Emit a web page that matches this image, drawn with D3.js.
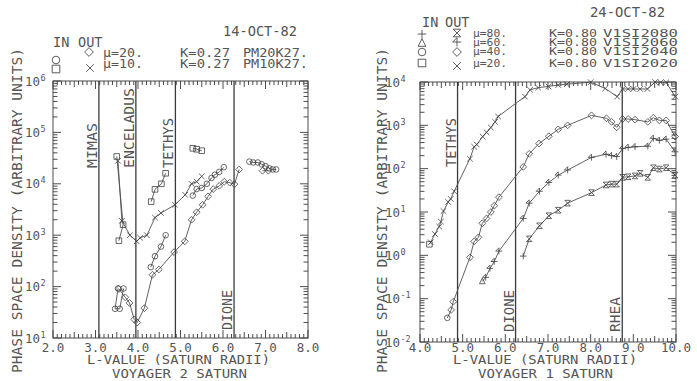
<!DOCTYPE html>
<html>
<head>
<meta charset="utf-8">
<script src="https://cdn.jsdelivr.net/npm/d3@7"></script>
<style>
  body { margin: 0; background: #fff; }
  svg text { font-family: "DejaVu Sans Mono", monospace; fill: #555; }
</style>
</head>
<body>
<script>
// ---- data: Voyager 2 (left panel) ----
const v2Moons = ["MIMAS", "ENCELADUS", "TETHYS", "DIONE"];
const v2MoonL = [3.08, 3.95, 4.88, 6.26];

// IN mu=20 (circles), IN mu=10 (squares), OUT mu=20 (diamonds), OUT mu=10 (x)
const v2In20 = [[3.53,92],[3.46,37],[3.57,37],[3.66,92],null,
  [4.30,240],[4.40,390],[4.54,600],[4.65,1000],null,
  [5.29,5900],[5.38,7900],[5.50,8300],[5.62,10000],[5.73,13000],[5.81,15000],[5.91,17000],[6.02,21000],null,
  [6.62,27000],[6.71,26000],[6.82,26000],[6.91,24000],[7.00,22000],[7.09,20000],[7.17,19000],[7.25,19000]];
const v2In10 = [[3.50,34000],[3.65,1600],[3.55,780],null,
  [4.31,4500],[4.40,7800],[4.55,10000],[4.65,16000],null,
  [5.29,49000],[5.38,47000],[5.50,44000]];
const v2Out20 = [[3.55,90],[3.70,62],[3.80,48],[3.91,23],[3.98,20],[4.15,38],[4.34,170],[4.49,215],
  [4.85,470],[5.10,760],[5.26,2000],[5.38,2800],[5.52,3900],[5.65,5700],[5.77,7900],[5.91,9100],
  [6.03,11000],[6.16,10500],[6.27,9800],[6.38,19000],null,[6.93,18000],[7.07,18000]];
const v2Out10 = [[3.53,28000],[3.62,1900],[3.81,1000],[3.97,760],[4.05,890],[4.21,1000],[4.40,2200],
  [4.54,2700],[4.87,3900],[5.11,6100],[5.26,10000],[5.38,11000],[5.50,14000]];

const v2Mu = ["\u03bc=20.", "\u03bc=10."];
const v2K = ["K=0.27", "K=0.27"];
const v2Id = ["PM20K27.", "PM10K27."];

// ---- data: Voyager 1 (right panel) ----
const v1Moons = ["TETHYS", "DIONE", "RHEA"];
const v1MoonL = [4.88, 6.24, 8.74];

const v1In80 = [[6.42,0.96]];
const v1In60 = [[5.46,0.25]];
const v1In40 = [[4.64,0.036]];
const v1In20 = [[4.22,1.8]];
const v1Out80 = [[6.56,2.4],[6.80,4.8],[7.02,8.2],[7.24,11],[7.46,16],[8.02,28],[8.36,42],[8.49,44],[8.61,44],
  [8.75,63],[8.88,65],[9.04,68],[9.16,78],[9.34,63],[9.47,105],[9.61,98],[9.77,105],[9.98,71]];
const v1Out60 = [[5.54,0.31],[5.64,0.5],[5.74,0.72],[5.85,1.25],[6.42,7.1],[6.56,16],[6.80,30],[7.02,48],
  [7.24,71],[7.46,93],[8.02,182],[8.36,215],[8.49,200],[8.61,190],[8.75,290],[8.88,310],[9.04,320],
  [9.34,330],[9.47,500],[9.61,450],[9.77,480],[9.98,245]];
const v1Out40 = [[4.73,0.055],[4.78,0.085],[5.17,0.9],[5.27,2.1],[5.37,2.6],[5.46,5.5],[5.56,7.1],[5.66,10],
  [5.74,14],[5.85,22],[6.42,110],[6.56,220],[6.79,380],[7.02,560],[7.24,810],[7.46,1000],[8.02,1700],
  [8.37,1450],[8.49,1200],[8.61,900],[8.75,1400],[8.88,1400],[9.04,1350],[9.34,1200],[9.47,1500],
  [9.61,1300],[9.77,1300],[9.98,550]];
const v1Out20 = [[4.25,2.0],[4.35,3.1],[4.45,4.6],[4.49,6.0],[4.55,10.5],[4.66,17],[4.72,20],[4.80,30],
  [5.17,170],[5.27,320],[5.33,360],[5.47,550],[5.56,690],[5.66,890],[5.76,1200],[5.83,1600],[6.46,4600],
  [6.58,6600],[6.77,7400],[7.01,7900],[7.24,8500],[7.44,8900],[8.00,9900],[8.34,7100],[8.62,4600],
  [8.75,6900],[8.88,6900],[9.00,6900],[9.16,6900],[9.33,6900],[9.51,10000],[9.64,9800],[9.77,9800],[9.98,4600]];

const v1Mu = ["\u03bc=80.", "\u03bc=60.", "\u03bc=40.", "\u03bc=20."];
const v1K = ["K=0.80", "K=0.80", "K=0.80", "K=0.80"];
const v1Id = ["V1SI2080", "V1SI2060", "V1SI2040", "V1SI2020"];

// ---- drawing ----
const FS = 13.5;
const INK = "#4a4a4a";

const svg = d3.select("body").append("svg")
  .attr("width", 697).attr("height", 381);

// marker shapes, stroke only
function markerPath(type, s) {
  s = s || 3;
  switch (type) {
    case "circle": return d3.symbol(d3.symbolCircle, Math.PI * s * s)();
    case "square": return `M${-s},${-s}H${s}V${s}H${-s}Z`;
    case "diamond": return `M0,${-s-0.6}L${s+0.6},0L0,${s+0.6}L${-s-0.6},0Z`;
    case "x": return `M${-s},${-s}L${s},${s}M${-s},${s}L${s},${-s}`;
    case "plus": return `M${-s-0.5},0H${s+0.5}M0,${-s-0.5}V${s+0.5}`;
    case "triangle": return `M0,${-s-0.5}L${s},${s-0.5}H${-s}Z`;
    case "hourglass": return `M${-s},${-s}H${s}L${-s},${s}H${s}Z`;
    case "star": return `M${-s-0.5},0H${s+0.5}M0,${-s-0.5}V${s+0.5}M0,${-s-0.5}L${-s-0.5},0`;
  }
}

function txt(g, x, y, str, opt) {
  opt = opt || {};
  const t = g.append("text")
    .attr("x", x).attr("y", y)
    .attr("font-size", opt.size || FS)
    .attr("text-anchor", opt.anchor || "start")
    .text(str);
  if (opt.len) t.attr("textLength", opt.len).attr("lengthAdjust", "spacingAndGlyphs");
  return t;
}

function panel(cfg) {
  const g = svg.append("g");
  const x = d3.scaleLinear().domain(cfg.xDom).range([cfg.x0, cfg.x1]);
  const y = d3.scaleLog().domain(cfg.yDom).range([cfg.y1, cfg.y0]);

  // minor / half / major ticks on all four sides, pointing inward
  const xMinor = d3.range(cfg.xDom[0] * 10, cfg.xDom[1] * 10 + 1).map(v => v / 10);
  const tickLen = v => {
    const r = Math.round(v * 10) % 10;
    return r === 0 ? 8 : (r === 5 ? 6 : 4);
  };
  const pows = d3.range(Math.log10(cfg.yDom[0]), Math.log10(cfg.yDom[1]) + 1);
  const yTicks = [];
  pows.forEach((p, i) => {
    yTicks.push({ v: Math.pow(10, p), len: 8 });
    if (i < pows.length - 1) d3.range(2, 10).forEach(m => yTicks.push({ v: m * Math.pow(10, p), len: 4.5 }));
  });

  const ax = g.append("g").attr("stroke", "#3a3a3a").attr("stroke-width", 0.9);
  ax.append("rect").attr("x", cfg.x0).attr("y", cfg.y0)
    .attr("width", cfg.x1 - cfg.x0).attr("height", cfg.y1 - cfg.y0).attr("fill", "none");
  xMinor.forEach(v => {
    const px = x(v), L = tickLen(v);
    ax.append("line").attr("x1", px).attr("x2", px).attr("y1", cfg.y1).attr("y2", cfg.y1 - L);
    ax.append("line").attr("x1", px).attr("x2", px).attr("y1", cfg.y0).attr("y2", cfg.y0 + L);
  });
  yTicks.forEach(t => {
    const py = y(t.v);
    ax.append("line").attr("x1", cfg.x0).attr("x2", cfg.x0 + t.len).attr("y1", py).attr("y2", py);
    ax.append("line").attr("x1", cfg.x1).attr("x2", cfg.x1 - t.len).attr("y1", py).attr("y2", py);
  });

  // tick labels
  d3.range(cfg.xDom[0], cfg.xDom[1] + 1).forEach(v => {
    txt(g, x(v), 351.5, d3.format(".1f")(v), { anchor: "middle", size: 12.5 });
  });
  pows.forEach(p => {
    const py = y(Math.pow(10, p));
    txt(g, cfg.x0 - cfg.yLabOff, py + 4.5, "10", { anchor: "end", size: 12.5 });
    txt(g, cfg.x0 - cfg.yLabOff + 0.5, py - 0.5, String(p), { size: 8.5 });
  });

  // moon lines and names
  cfg.moons.forEach((m, i) => {
    const px = x(cfg.moonL[i]);
    g.append("line").attr("x1", px).attr("x2", px).attr("y1", cfg.y0).attr("y2", cfg.y1)
      .attr("stroke", "#3a3a3a").attr("stroke-width", 1.3);
    g.append("text").attr("transform", `translate(${px - 2},${cfg.moonY[i]}) rotate(-90)`)
      .attr("font-size", FS)
      .attr("textLength", cfg.moonLen[i]).attr("lengthAdjust", "spacingAndGlyphs")
      .text(m);
  });

  // axis titles
  g.append("text")
    .attr("transform", `translate(${cfg.yTitleX},210.5) rotate(-90)`)
    .attr("text-anchor", "middle").attr("font-size", FS)
    .attr("textLength", 325).attr("lengthAdjust", "spacingAndGlyphs")
    .text("PHASE SPACE DENSITY (ARBITRARY UNITS)");
  txt(g, cfg.xTitle[0], 363.5, "L-VALUE (SATURN RADII)", { len: cfg.xTitle[1], size: 11.5 });
  txt(g, cfg.craft[0], 377.5, cfg.craft[2], { len: cfg.craft[1], size: 11.5 });

  // series
  const line = d3.line().defined(d => d).x(d => x(d[0])).y(d => y(d[1]));
  const plot = g.append("g");
  cfg.series.forEach(s => {
    plot.append("path").datum(s.line || s.pts)
      .attr("d", line).attr("fill", "none")
      .attr("stroke", "#505050").attr("stroke-width", 0.9);
  });
  cfg.series.forEach(s => {
    plot.selectAll(null).data(s.pts.filter(d => d)).enter().append("path")
      .attr("d", markerPath(s.mark, 2.8))
      .attr("transform", d => `translate(${x(d[0])},${y(d[1])})`)
      .attr("fill", "none").attr("stroke", "#404040").attr("stroke-width", 0.8);
  });

  // header / legend
  txt(g, cfg.date[0], cfg.date[1], cfg.date[2], { len: cfg.date[3] });
  txt(g, cfg.inOut[0], cfg.inOut[2], "IN");
  txt(g, cfg.inOut[1], cfg.inOut[2], "OUT");
  const lg = cfg.legend;
  lg.rows.forEach((r, i) => {
    txt(g, lg.xs[0], r.base, lg.mu[i], { len: lg.lens[0], size: lg.size });
    txt(g, lg.xs[1], r.base, lg.k[i], { len: lg.lens[1], size: lg.size });
    txt(g, lg.xs[2], r.base, lg.id[i], { len: lg.lens[2], size: lg.size });
    g.append("path").attr("d", markerPath(r.inMark, 3.8))
      .attr("transform", `translate(${r.inPos[0]},${r.inPos[1]})`)
      .attr("fill", "none").attr("stroke", INK).attr("stroke-width", 0.9);
    g.append("path").attr("d", markerPath(r.outMark, 3.8))
      .attr("transform", `translate(${r.outPos[0]},${r.outPos[1]})`)
      .attr("fill", "none").attr("stroke", INK).attr("stroke-width", 0.9);
  });
}

const byL = (a, b) => a[0] - b[0];

panel({
  x0: 53, x1: 308, y0: 81, y1: 338, xDom: [2, 8], yDom: [10, 1e6], yLabOff: 13,
  moons: v2Moons, moonL: v2MoonL, moonY: [168, 168, 168, 330], moonLen: [45, 80, 50, 40],
  yTitleX: 22, xTitle: [87, 183], craft: [112, 135, "VOYAGER 2 SATURN"],
  date: [223, 36, "14-OCT-82", 74], inOut: [53, 78, 47],
  series: [
    { pts: v2In20, mark: "circle" },
    { pts: v2In10, mark: "square" },
    { pts: v2Out20, mark: "diamond" },
    { pts: v2Out10, mark: "x" }
  ],
  legend: {
    mu: v2Mu, k: v2K, id: v2Id, xs: [103, 180, 243], lens: [40, 50, 65], size: 12.5,
    rows: [
      { base: 57, inMark: "circle", inPos: [56, 60], outMark: "diamond", outPos: [89, 52] },
      { base: 68, inMark: "square", inPos: [56, 69], outMark: "x", outPos: [90, 68] }
    ]
  }
});

panel({
  x0: 420, x1: 676, y0: 82, y1: 342, xDom: [4, 10], yDom: [0.01, 1e4], yLabOff: 20,
  moons: v1Moons, moonL: v1MoonL, moonY: [167, 332, 332], moonLen: [49, 42, 35],
  yTitleX: 387, xTitle: [453, 184], craft: [478, 135, "VOYAGER 1 SATURN"],
  date: [590, 17, "24-OCT-82", 75], inOut: [422, 445, 27],
  series: [
    { pts: v1Out80, line: v1In80.concat(v1Out80).sort(byL), mark: "hourglass" },
    { pts: v1Out60, line: v1In60.concat(v1Out60).sort(byL), mark: "star" },
    { pts: v1Out40, line: v1In40.concat(v1Out40).sort(byL), mark: "diamond" },
    { pts: v1Out20, line: v1In20.concat(v1Out20).sort(byL), mark: "x" },
    { pts: v1In80, mark: "plus" },
    { pts: v1In60, mark: "triangle" },
    { pts: v1In40, mark: "circle" },
    { pts: v1In20, mark: "square" }
  ],
  legend: {
    mu: v1Mu, k: v1K, id: v1Id, xs: [473, 549, 603], lens: [34, 48, 75], size: 10.5,
    rows: [
      { base: 37, inMark: "plus", inPos: [422, 34], outMark: "hourglass", outPos: [457, 33] },
      { base: 46, inMark: "triangle", inPos: [422, 43], outMark: "star", outPos: [457, 42] },
      { base: 55, inMark: "circle", inPos: [422, 52], outMark: "diamond", outPos: [457, 52] },
      { base: 67, inMark: "square", inPos: [422, 63], outMark: "x", outPos: [457, 66] }
    ]
  }
});
</script>
</body>
</html>
